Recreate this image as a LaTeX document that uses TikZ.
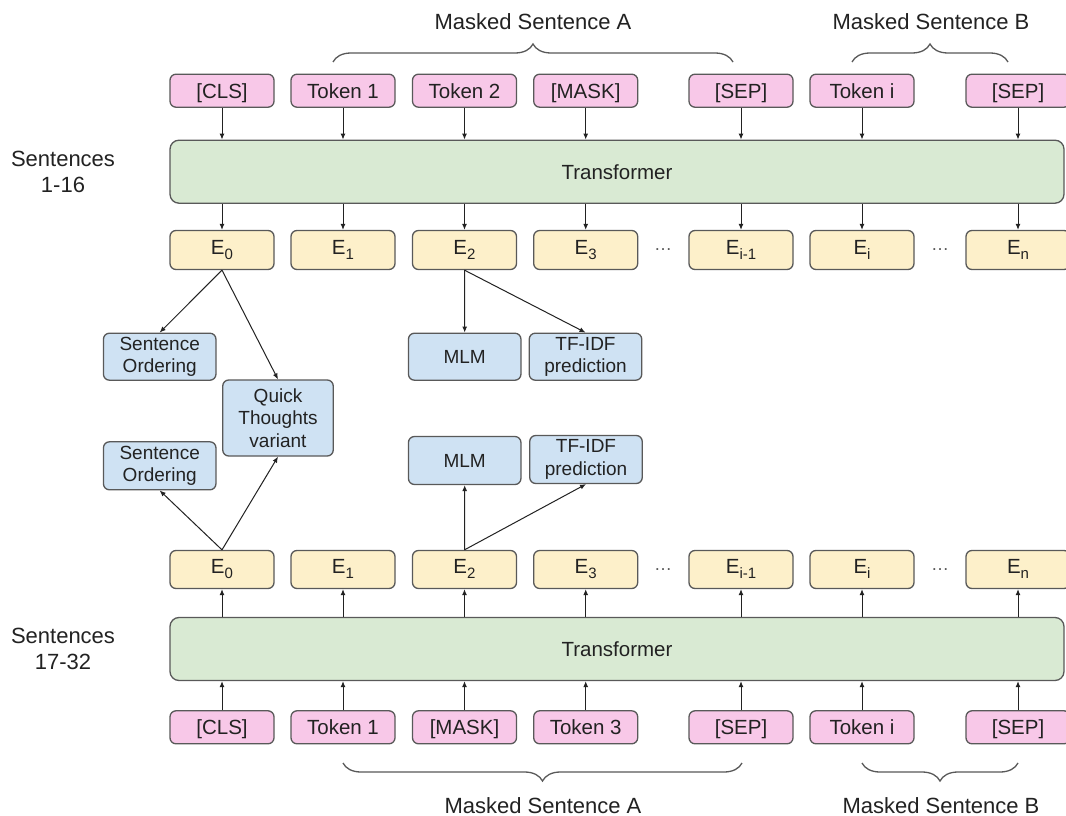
\documentclass[tikz,border=0pt]{standalone}
\usepackage{fontspec}
\setmainfont{Liberation Sans}
\usepackage{xcolor}
\usepackage{tikz}
\usetikzlibrary{arrows.meta, decorations.pathreplacing}

\definecolor{tokpink}{HTML}{F8C8E8}
\definecolor{embyellow}{HTML}{FDF0CA}
\definecolor{trgreen}{HTML}{D9EAD3}
\definecolor{taskblue}{HTML}{CFE2F3}
\definecolor{edgegray}{HTML}{595959}
\definecolor{inkgray}{HTML}{222222}

% E with a lowered index
\newcommand{\Esub}[1]{E\raisebox{-5pt}{\fontsize{15}{15}\selectfont #1}}

\begin{document}
\begin{tikzpicture}[x=1pt, y=-1pt,
		box/.style={draw=edgegray, line width=1.3pt, rounded corners=6pt, inner sep=0pt, text=inkgray},
		tok/.style={box, fill=tokpink, minimum width=104pt, minimum height=33pt, text height=14.7pt, text depth=0pt, font=\fontsize{20.5}{24}\selectfont},
		emb/.style={box, fill=embyellow, minimum width=104pt, minimum height=39pt, text height=14.7pt, text depth=6pt, font=\fontsize{20.5}{24}\selectfont},
		trans/.style={box, fill=trgreen, rounded corners=9pt, minimum width=894pt, minimum height=63pt, font=\fontsize{20.5}{24}\selectfont},
		task/.style={box, fill=taskblue, minimum width=112.5pt, minimum height=47pt, align=center, font=\fontsize{19}{22.5}\selectfont},
		link/.style={draw=inkgray, line width=1pt, -{Latex[length=6pt,width=5pt]}},
		lbl/.style={text=inkgray, align=center, font=\fontsize{22}{26.5}\selectfont},
		dotted row/.style={text=edgegray, font=\fontsize{18}{20}\selectfont},
		curly/.style={draw=edgegray, line width=1.3pt, decorate, decoration={brace, amplitude=18pt}}]
		\clip (0,0) rectangle (1066,816);
		\fill[white] (0,0) rectangle (1066,816);

		% Sentences 1-16: tokens, transformer, embeddings
		\foreach \i/\x/\txt in {0/222/{[CLS]}, 1/343/{Token 1}, 2/464.5/{Token 2}, 3/585.7/{[MASK]}, 4/741/{[SEP]}, 5/862/{Token i}, 6/1018/{[SEP]}}
			\node[tok] (ta\i) at (\x,90.7) {\txt};
		\node[trans] (tra) at (617,171.7) {Transformer};
		\foreach \i/\x/\s in {0/222/0, 1/343/1, 2/464.5/2, 3/585.7/3, 4/741/{i-1}, 5/862/i, 6/1018/n}
			\node[emb] (ea\i) at (\x,250) {\Esub{\s}};
		\foreach \i in {0,...,6} {
			\draw[link] (ta\i) -- (ta\i |- tra.north);
			\draw[link] (ea\i |- tra.south) -- (ea\i);
		}
		\node[dotted row] (dotsa) at (663,250) {\dots};
		\node[dotted row] (dotsb) at (940,250) {\dots};
		\node[lbl] (senta) at (63,172) {Sentences\\1-16};

		% Masked sentences (top)
		\draw[curly] (333,62) -- (733,62);
		\node[lbl, anchor=base] (msa) at (533,29.5) {Masked Sentence A};
		\draw[curly] (852,62) -- (1008,62);
		\node[lbl, anchor=base] (msb) at (931,29.5) {Masked Sentence B};

		% Training objectives
		\node[task] (soa) at (159.7,356.7) {Sentence\\Ordering};
		\node[task, minimum width=110.5pt, minimum height=76pt] (qt) at (278,418) {Quick\\Thoughts\\variant};
		\node[task, minimum height=48pt] (sob) at (159.7,465.8) {Sentence\\Ordering};
		\node[task] (mlma) at (464.7,356.7) {MLM};
		\node[task] (tfa) at (585.5,356.7) {TF-IDF\\prediction};
		\node[task, minimum height=48pt] (mlmb) at (464.7,460.5) {MLM};
		\node[task, minimum height=48pt] (tfb) at (586,459.5) {TF-IDF\\prediction};

		% Sentences 17-32: embeddings, transformer, tokens
		\foreach \i/\x/\s in {0/222/0, 1/343/1, 2/464.5/2, 3/585.7/3, 4/741/{i-1}, 5/862/i, 6/1018/n}
			\node[emb, minimum height=38pt] (eb\i) at (\x,569.5) {\Esub{\s}};
		\node[trans] (trb) at (617,649) {Transformer};
		\foreach \i/\x/\txt in {0/222/{[CLS]}, 1/343/{Token 1}, 2/464.5/{[MASK]}, 3/585.7/{Token 3}, 4/741/{[SEP]}, 5/862/{Token i}, 6/1018/{[SEP]}}
			\node[tok] (tb\i) at (\x,727.3) {\txt};
		\foreach \i in {0,...,6} {
			\draw[link] (tb\i) -- (tb\i |- trb.south);
			\draw[link] (eb\i |- trb.north) -- (eb\i);
		}
		\node[dotted row] (dotsc) at (663,570) {\dots};
		\node[dotted row] (dotsd) at (940,570) {\dots};
		\node[lbl] (sentb) at (63,649) {Sentences\\17-32};

		% Objective arrows
		\draw[link] (ea0.south) -- (soa.north);
		\draw[link] (ea0.south) -- (qt.north);
		\draw[link] (ea2.south) -- (mlma.north);
		\draw[link] (ea2.south) -- (tfa.north);
		\draw[link] (eb0.north) -- (sob.south);
		\draw[link] (eb0.north) -- (qt.south);
		\draw[link] (eb2.north) -- (mlmb.south);
		\draw[link] (eb2.north) -- (tfb.south);

		% Masked sentences (bottom)
		\draw[curly] (742,763) -- (343,763);
		\node[lbl, anchor=base] (msc) at (543,813) {Masked Sentence A};
		\draw[curly] (1018,763) -- (862,763);
		\node[lbl, anchor=base] (msd) at (941,813) {Masked Sentence B};
	\end{tikzpicture}
\end{document}
